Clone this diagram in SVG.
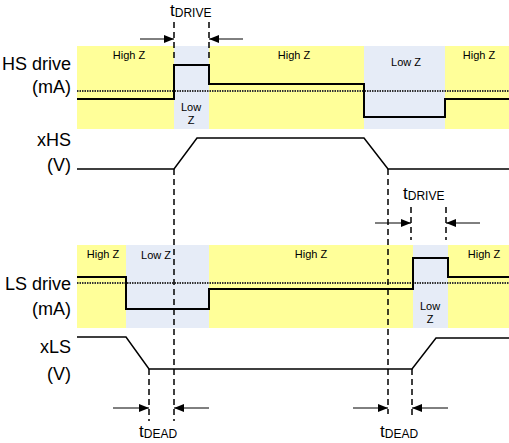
<svg xmlns="http://www.w3.org/2000/svg" width="509" height="443" viewBox="0 0 509 443">
<defs>
<style>
.hz{fill:#ffff99}
.lz{fill:#e6ecf7}
.lbl{font-family:"Liberation Sans",Arial,sans-serif;font-size:18px;fill:#000;text-anchor:end}
.z{font-family:"Liberation Sans",Arial,sans-serif;font-size:11px;fill:#000;text-anchor:middle}
.t{font-family:"Liberation Sans",Arial,sans-serif;font-size:17px;fill:#000}
.sub{font-size:12px}
.wave{fill:none;stroke:#000;stroke-width:2}
.ref{fill:none;stroke:#333;stroke-width:2;stroke-dasharray:1.5 1}
.dash{fill:none;stroke:#000;stroke-width:1.5;stroke-dasharray:6 4}
.arr{fill:none;stroke:#000;stroke-width:1;marker-end:url(#ah)}
</style>
<marker id="ah" viewBox="0 0 10 8" refX="10" refY="4" markerWidth="10" markerHeight="8" markerUnits="userSpaceOnUse" orient="auto">
<path d="M0,0 L10,4 L0,8 Z" fill="#000"/>
</marker>
</defs>

<g id="hs-drive">
<rect class="hz" x="77" y="46" width="432" height="83"/>
<rect class="lz" x="174" y="46" width="35" height="83"/>
<rect class="lz" x="364" y="46" width="81" height="83"/>
<text class="z" x="129" y="59">High Z</text>
<text class="z" x="191" y="111">Low</text>
<text class="z" x="191" y="124">Z</text>
<text class="z" x="294" y="59">High Z</text>
<text class="z" x="406" y="66">Low Z</text>
<text class="z" x="479" y="59">High Z</text>
<line class="ref" x1="77" y1="91" x2="509" y2="91"/>
<polyline class="wave" points="77,99 174,99 174,65 209,65 209,84 364,84 364,117 445,117 445,99 509,99"/>
<text class="lbl" x="71" y="70">HS drive</text>
<text class="lbl" x="71" y="93">(mA)</text>
</g>

<g id="xhs">
<polyline class="wave" points="77,169 174,169 197,138 364,138 388,169 509,169" style="stroke-width:1.5"/>
<text class="lbl" x="71" y="146">xHS</text>
<text class="lbl" x="71" y="171">(V)</text>
</g>

<g id="ls-drive">
<rect class="hz" x="77" y="245" width="432" height="83"/>
<rect class="lz" x="126" y="245" width="83" height="83"/>
<rect class="lz" x="413" y="245" width="35" height="83"/>
<text class="z" x="103" y="258">High Z</text>
<text class="z" x="156" y="259">Low Z</text>
<text class="z" x="311" y="258">High Z</text>
<text class="z" x="430" y="310">Low</text>
<text class="z" x="430" y="323">Z</text>
<text class="z" x="484" y="258">High Z</text>
<line class="ref" x1="77" y1="283" x2="509" y2="283"/>
<polyline class="wave" points="77,277 126,277 126,309 209,309 209,289 413,289 413,258 448,258 448,277 509,277"/>
<text class="lbl" x="71" y="290">LS drive</text>
<text class="lbl" x="71" y="315">(mA)</text>
</g>

<g id="xls">
<polyline class="wave" points="77,337 126,337 149,369 412,369 436,338 509,338" style="stroke-width:1.5"/>
<text class="lbl" x="71" y="353">xLS</text>
<text class="lbl" x="71" y="380">(V)</text>
</g>

<g id="timing-connectors">
<line class="dash" x1="174" y1="22" x2="174" y2="58"/>
<line class="dash" x1="209" y1="22" x2="209" y2="58"/>
<line class="dash" x1="174" y1="169" x2="174" y2="421"/>
<line class="dash" x1="388" y1="169" x2="388" y2="414"/>
<line class="dash" x1="411" y1="207" x2="411" y2="240"/>
<line class="dash" x1="446" y1="207" x2="446" y2="240"/>
<line class="dash" x1="149" y1="369" x2="149" y2="421"/>
<line class="dash" x1="412" y1="369" x2="412" y2="416"/>
<line class="arr" x1="140" y1="39" x2="174" y2="39"/>
<line class="arr" x1="243" y1="39" x2="209" y2="39"/>
<line class="arr" x1="375" y1="223" x2="411" y2="223"/>
<line class="arr" x1="480" y1="223" x2="446" y2="223"/>
<line class="arr" x1="113" y1="408" x2="149" y2="408"/>
<line class="arr" x1="209" y1="408" x2="174" y2="408"/>
<line class="arr" x1="353" y1="408" x2="388" y2="408"/>
<line class="arr" x1="448" y1="408" x2="412" y2="408"/>
</g>

<g id="labels">
<text class="t" x="170" y="16">t<tspan class="sub" dy="1">DRIVE</tspan></text>
<text class="t" x="403" y="199">t<tspan class="sub" dy="1">DRIVE</tspan></text>
<text class="t" x="139" y="437">t<tspan class="sub" dy="1">DEAD</tspan></text>
<text class="t" x="380" y="437">t<tspan class="sub" dy="1">DEAD</tspan></text>
</g>
</svg>
